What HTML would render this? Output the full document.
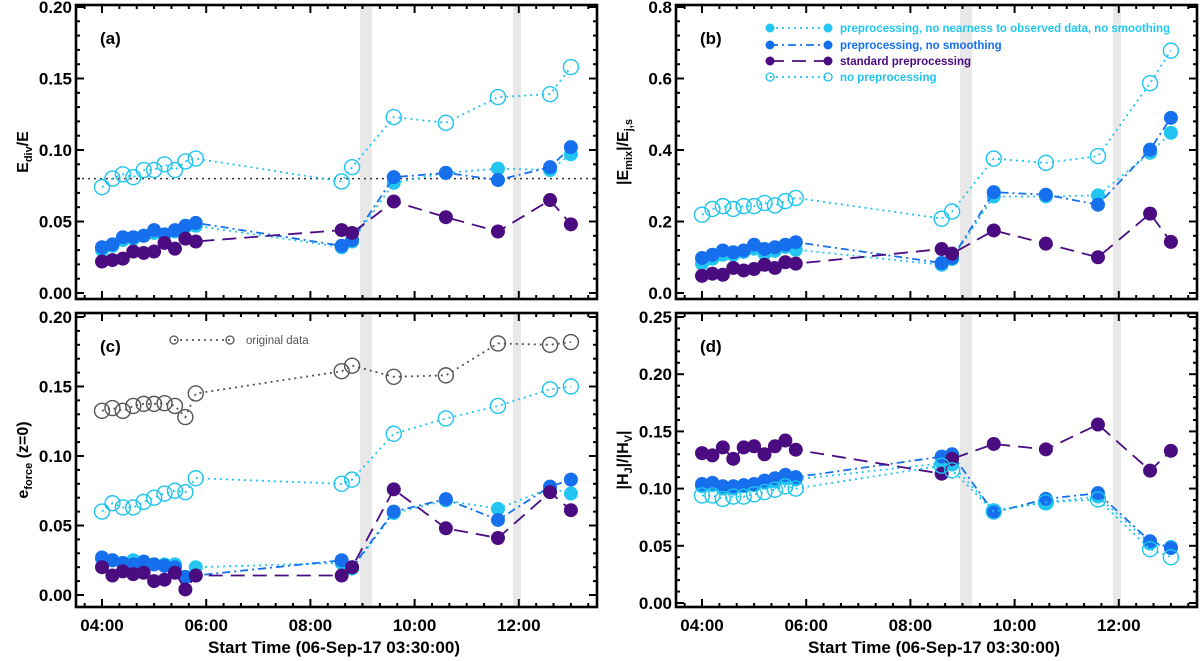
<!DOCTYPE html>
<html><head><meta charset="utf-8"><style>
body{margin:0;background:#fff;}
svg{display:block;font-family:"Liberation Sans",sans-serif;}
</style></head><body>
<svg id="chart" width="1200" height="661" viewBox="0 0 1200 661" xmlns="http://www.w3.org/2000/svg"></svg>
<script>
// time points: hours after 04:00
const times = [0,0.2,0.4,0.6,0.8,1.0,1.2,1.4,1.6,1.8,4.6,4.8,5.6,6.6,7.6,8.6,9.0];
const xTickLabels = ["04:00","06:00","08:00","10:00","12:00"];
const xTickHours = [0,2,4,6,8];
const bandHours = [[4.95,5.18],[7.89,8.04]];

const aOpen  = [0.074,0.080,0.083,0.081,0.086,0.086,0.090,0.086,0.092,0.094,0.078,0.088,0.123,0.119,0.137,0.139,0.158];
const aBlue  = [0.032,0.034,0.039,0.039,0.040,0.044,0.041,0.044,0.047,0.049,0.033,0.037,0.081,0.084,0.079,0.088,0.102];
const aLight = [0.030,0.033,0.037,0.038,0.040,0.042,0.041,0.043,0.046,0.047,0.032,0.036,0.077,0.084,0.087,0.086,0.097];
const aPurp  = [0.022,0.023,0.024,0.029,0.028,0.029,0.035,0.031,0.038,0.036,0.044,0.042,0.064,0.053,0.043,0.065,0.048];

const bOpen  = [0.219,0.235,0.243,0.235,0.243,0.243,0.252,0.245,0.257,0.266,0.208,0.228,0.376,0.364,0.383,0.587,0.678];
const bBlue  = [0.098,0.107,0.119,0.114,0.119,0.135,0.123,0.128,0.135,0.142,0.084,0.098,0.282,0.275,0.247,0.401,0.490];
const bLight = [0.082,0.096,0.107,0.107,0.115,0.124,0.110,0.118,0.129,0.121,0.079,0.095,0.270,0.270,0.273,0.392,0.448];
const bPurp  = [0.048,0.054,0.051,0.070,0.063,0.067,0.079,0.070,0.086,0.082,0.123,0.110,0.175,0.138,0.100,0.222,0.143];

const cOrig  = [0.1325,0.1345,0.1325,0.136,0.1375,0.1375,0.138,0.136,0.128,0.145,0.161,0.165,0.157,0.158,0.181,0.180,0.182];
const cOpen  = [0.060,0.066,0.063,0.063,0.067,0.070,0.073,0.075,0.074,0.084,0.080,0.083,0.116,0.127,0.136,0.148,0.150];
const cBlue  = [0.027,0.025,0.023,0.022,0.024,0.022,0.021,0.020,0.013,0.014,0.025,0.020,0.060,0.069,0.054,0.078,0.083];
const cLight = [0.026,0.025,0.023,0.025,0.024,0.022,0.022,0.022,0.013,0.020,0.023,0.019,0.059,0.068,0.062,0.077,0.073];
const cPurp  = [0.020,0.014,0.017,0.015,0.016,0.010,0.011,0.016,0.004,0.014,0.014,0.020,0.076,0.048,0.041,0.074,0.061];

const dOpen  = [0.094,0.094,0.091,0.093,0.093,0.095,0.097,0.099,0.102,0.100,0.120,0.116,0.080,0.088,0.0905,0.047,0.040];
const dBlue  = [0.104,0.105,0.102,0.102,0.103,0.104,0.107,0.109,0.112,0.110,0.128,0.130,0.079,0.091,0.096,0.054,0.048];
const dLight = [0.102,0.103,0.100,0.100,0.102,0.103,0.105,0.106,0.109,0.108,0.122,0.121,0.081,0.088,0.093,0.052,0.049];
const dPurp  = [0.131,0.129,0.136,0.126,0.136,0.137,0.130,0.137,0.142,0.134,0.113,0.126,0.139,0.1343,0.156,0.1157,0.133];

const aTicks = ["0.00","0.05","0.10","0.15","0.20"];
const bTicks = ["0.0","0.2","0.4","0.6","0.8"];
const cTicks = ["0.00","0.05","0.10","0.15","0.20"];
const dTicks = ["0.00","0.05","0.10","0.15","0.20","0.25"];

const NS="http://www.w3.org/2000/svg";
const svg=document.getElementById('chart');
function mk(tag,attrs,parent){const e=document.createElementNS(NS,tag);for(const k in attrs)e.setAttribute(k,attrs[k]);(parent||svg).appendChild(e);return e;}

const C_OPEN="#1ec4ee", C_LIGHT="#22c6f0", C_BLUE="#1670ee", C_PURP="#4a0c80", C_GRAY="#555";

function panel(opt){
  const g=mk('g',{});
  
  
  const L=opt.x0,R=opt.x0+521,T=opt.top,B=opt.bot;
  const xs=h=>opt.x0+26+h*52.1;
  const ys=v=>opt.y0-(v/opt.ymax)*(opt.y0-opt.ytop);
  bandHours.forEach(b=>{const r=mk('rect',{x:xs(b[0]),y:T,width:xs(b[1])-xs(b[0]),height:B-T,fill:"#e8e8e8"},g);
    });
  const tg=mk('g',{stroke:"#000","stroke-width":2},g);
  for(let k=-1;k<=28;k++){const h=k/3;const x=xs(h);if(x<L+2||x>R-2)continue;
    const len=(k%6===0)?8:4;
    mk('line',{x1:x,y1:B,x2:x,y2:B-len},tg);mk('line',{x1:x,y1:T,x2:x,y2:T+len},tg);}
  const nMinor=opt.ticks.length-1, step=opt.ymax/nMinor;
  for(let i=0;i<=nMinor*5;i++){const v=i*step/5;const y=ys(v);if(y<T+1||y>B-1)continue;
    const len=(i%5===0)?8:4;
    mk('line',{x1:L,y1:y,x2:L+len,y2:y},tg);mk('line',{x1:R,y1:y,x2:R-len,y2:y},tg);}
  opt.ticks.forEach((t,i)=>{const tx=mk('text',{x:L-4,y:ys(i*step)+6,"text-anchor":"end","font-size":17,"font-weight":"bold"},g);tx.textContent=t;
    });
  if(opt.xlabels){xTickLabels.forEach((t,i)=>{const tx=mk('text',{x:xs(xTickHours[i]),y:631,"text-anchor":"middle","font-size":17,"font-weight":"bold"},g);tx.textContent=t;
      });
    const xt=mk('text',{x:opt.x0+258,y:653,"text-anchor":"middle","font-size":17,"font-weight":"bold"},g);xt.textContent="Start Time (06-Sep-17 03:30:00)";
    }
  const yt=mk('text',{transform:`translate(${opt.x0-48},${(T+B)/2}) rotate(-90)`,"text-anchor":"middle","font-size":16,"font-weight":"bold"},g);
  yt.innerHTML=opt.ytitle;
  
  const pl=mk('text',{x:L+24,y:T+39,"font-size":17,"font-weight":"bold"},g);pl.textContent=opt.label;
  
  if(opt.hline!==undefined){const hl=mk('line',{x1:L,x2:R,y1:ys(opt.hline),y2:ys(opt.hline),stroke:"#333","stroke-width":1.5,"stroke-dasharray":"2 4"},g);
    }
  opt.series.forEach(s=>{
    const sg=mk('g',{},g);
    
    const pts=s.vals.map((v,i)=>xs(times[i]).toFixed(1)+","+ys(v).toFixed(1)).join(" ");
    mk('polyline',{points:pts,fill:"none",stroke:s.color,"stroke-width":1.8,"stroke-dasharray":s.dash},sg);
    s.vals.forEach((v,i)=>{
      const c=s.open?mk('circle',{cx:xs(times[i]),cy:ys(v),r:7.5,fill:"none",stroke:s.color,"stroke-width":1.4},sg)
                   :mk('circle',{cx:xs(times[i]),cy:ys(v),r:7,fill:s.color},sg);
      
    });
  });
  const fr=mk('rect',{x:L,y:T,width:R-L,height:B-T,fill:"none",stroke:"#000","stroke-width":2.6},g);
  
}
function S(name,vals,color,dash,open){return {name,vals,color,dash,open};}
const dot="2 4", dd="8 4 2 4", ld="14 8";
panel({name:'panel-a',label:'(a)',x0:76,top:5,bot:299,y0:293,ytop:7,ymax:0.2,ticks:aTicks,hline:0.08,
  ytitle:'E<tspan font-size="11" dy="4">div</tspan><tspan dy="-4">/E</tspan>',
  series:[S('series-no-nearness',aLight,C_LIGHT,dot),S('series-no-smoothing',aBlue,C_BLUE,dd),S('series-standard',aPurp,C_PURP,ld),S('series-no-preprocessing',aOpen,C_OPEN,dot,true)]});
panel({name:'panel-b',label:'(b)',x0:676,top:5,bot:299,y0:293,ytop:7,ymax:0.8,ticks:bTicks,
  ytitle:'|E<tspan font-size="11" dy="4">mix</tspan><tspan dy="-4">|/E</tspan><tspan font-size="11" dy="4">j,s</tspan>',
  series:[S('series-no-nearness',bLight,C_LIGHT,dot),S('series-no-smoothing',bBlue,C_BLUE,dd),S('series-standard',bPurp,C_PURP,ld),S('series-no-preprocessing',bOpen,C_OPEN,dot,true)]});
panel({name:'panel-c',label:'(c)',x0:76,top:313,bot:607,y0:595,ytop:317,ymax:0.2,ticks:cTicks,xlabels:true,
  ytitle:'e<tspan font-size="11" dy="4">force</tspan><tspan dy="-4"> (z=0)</tspan>',
  series:[S('series-original',cOrig,C_GRAY,dot,true),S('series-no-nearness',cLight,C_LIGHT,dot),S('series-no-smoothing',cBlue,C_BLUE,dd),S('series-standard',cPurp,C_PURP,ld),S('series-no-preprocessing',cOpen,C_OPEN,dot,true)]});
panel({name:'panel-d',label:'(d)',x0:676,top:313,bot:607,y0:603,ytop:317,ymax:0.25,ticks:dTicks,xlabels:true,
  ytitle:'|H<tspan font-size="11" dy="4">J</tspan><tspan dy="-4">|/|H</tspan><tspan font-size="11" dy="4">V</tspan><tspan dy="-4">|</tspan>',
  series:[S('series-no-nearness',dLight,C_LIGHT,dot),S('series-no-smoothing',dBlue,C_BLUE,dd),S('series-standard',dPurp,C_PURP,ld),S('series-no-preprocessing',dOpen,C_OPEN,dot,true)]});

const legItems=[["preprocessing, no nearness to observed data, no smoothing",C_LIGHT,dot,false,28],
  ["preprocessing, no smoothing",C_BLUE,dd,false,45],["standard preprocessing",C_PURP,ld,false,61],["no preprocessing",C_OPEN,dot,true,77]];
legItems.forEach(it=>{
  const g=mk('g',{});
  
  mk('line',{x1:770,x2:828,y1:it[4],y2:it[4],stroke:it[1],"stroke-width":1.8,"stroke-dasharray":it[2]},g);
  [770,828].forEach(x=>{ if(it[3]) mk('circle',{cx:x,cy:it[4],r:4,fill:"none",stroke:it[1],"stroke-width":1.3},g); else mk('circle',{cx:x,cy:it[4],r:4.5,fill:it[1]},g);});
  const t=mk('text',{x:840,y:it[4]+4,"font-size":11.5,"font-weight":"bold",fill:it[1]},g);
  if(it[0].length>40) t.setAttribute('textLength',330);
  t.textContent=it[0];
});
{const g=mk('g',{});
 mk('line',{x1:174,x2:230,y1:340,y2:340,stroke:C_GRAY,"stroke-width":1.8,"stroke-dasharray":dot},g);
 [174,230].forEach(x=>mk('circle',{cx:x,cy:340,r:4,fill:"none",stroke:C_GRAY,"stroke-width":1.3},g));
 const t=mk('text',{x:246,y:344,"font-size":11.5,fill:"#555"},g);t.textContent="original data";}
</script>
</body></html>
